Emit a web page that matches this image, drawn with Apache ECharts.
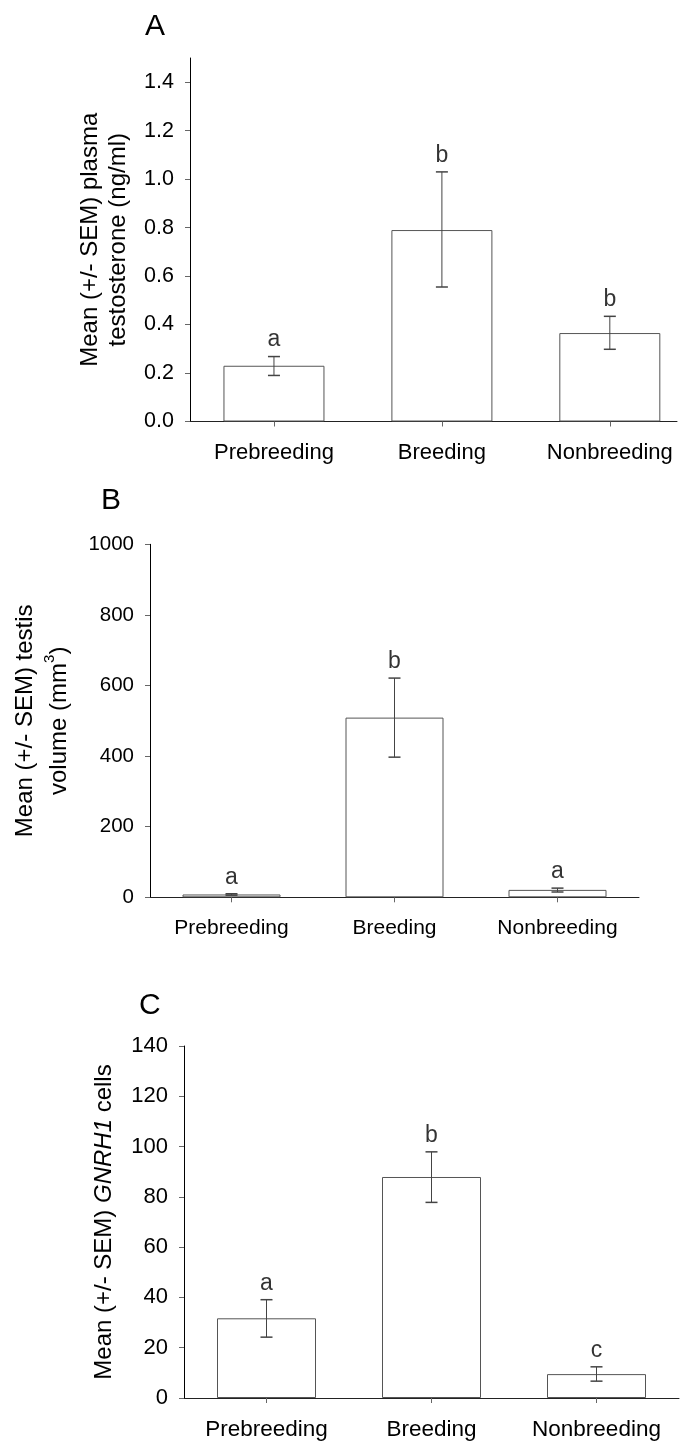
<!DOCTYPE html>
<html>
<head>
<meta charset="utf-8">
<script src="https://cdn.jsdelivr.net/npm/echarts@6/dist/echarts.min.js"></script>
<style>
html,body{margin:0;padding:0;background:#fff;}
#chart{width:686px;height:1441px;}
</style>
</head>
<body>
<div id="chart"></div>
<script>
// ---------- data ----------
const categories = ['Prebreeding', 'Breeding', 'Nonbreeding'];
const categoryIndex = [0, 1, 2];

// Panel A: plasma testosterone (ng/ml)
const testosteroneMean = [0.23, 0.79, 0.365];
const testosteroneLow = [0.19, 0.555, 0.298];
const testosteroneHigh = [0.268, 1.03, 0.434];
const testosteroneLetters = ['a', 'b', 'b'];
const testosteroneTicks = [0, 0.2, 0.4, 0.6, 0.8, 1.0, 1.2, 1.4];

// Panel B: testis volume (mm3)
const testisMean = [8, 509, 21];
const testisLow = [6, 397, 15];
const testisHigh = [10, 621, 26];
const testisLetters = ['a', 'b', 'a'];
const testisTicks = [0, 200, 400, 600, 800, 1000];

// Panel C: GNRH1 cells
const cellsMean = [31.7, 87.9, 9.5];
const cellsLow = [24.2, 77.8, 6.7];
const cellsHigh = [39.1, 97.9, 12.4];
const cellsLetters = ['a', 'b', 'c'];
const cellsTicks = [0, 20, 40, 60, 80, 100, 120, 140];

const panelLetters = ['A', 'B', 'C'];

// ---------- build ----------
const FONT = "'Liberation Sans', Arial, Helvetica, sans-serif";

const panels = [
  {
    grid: {left: 190, top: 58, width: 487, height: 363.5},
    xMax: 2.4, yMax: 1.5, yTicks: testosteroneTicks, decimals: 1,
    mean: testosteroneMean, low: testosteroneLow, high: testosteroneHigh, letters: testosteroneLetters,
    barWidth: 101, fontSize: 21.5,
    name: 'Mean (+/- SEM) plasma\ntestosterone (ng/ml)', nameGap: 58, nameLineHeight: 28,
    rich: {}
  },
  {
    grid: {left: 146, top: 544.3, width: 493, height: 353},
    xMax: 2.5, yMax: 1000, yTicks: testisTicks, decimals: 0,
    mean: testisMean, low: testisLow, high: testisHigh, letters: testisLetters,
    barWidth: 98, fontSize: 20.5,
    name: 'Mean (+/- SEM) testis\nvolume (mm{sup|3})', nameGap: 74, nameLineHeight: 34,
    rich: {sup: {fontSize: 15, fontFamily: FONT, color: '#000', verticalAlign: 'top', padding: [0, 0, 10, 0]}}
  },
  {
    grid: {left: 184, top: 1046, width: 495, height: 354.7},
    xMax: 2.5, yMax: 140, yTicks: cellsTicks, decimals: 0,
    mean: cellsMean, low: cellsLow, high: cellsHigh, letters: cellsLetters,
    barWidth: 99, fontSize: 22,
    name: 'Mean (+/- SEM) {i|GNRH1} cells', nameGap: 66, nameLineHeight: 28,
    rich: {i: {fontSize: 24, fontStyle: 'italic', fontFamily: FONT, color: '#000'}}
  }
];

const option = {
  animation: false,
  backgroundColor: '#fff',
  textStyle: {fontFamily: FONT},
  title: [
    {text: panelLetters[0], left: 140, top: 7},
    {text: panelLetters[1], left: 96, top: 481},
    {text: panelLetters[2], left: 134, top: 986}
  ].map(t => Object.assign(t, {textStyle: {fontFamily: FONT, fontSize: 30, fontWeight: 'normal', color: '#000'}})),
  grid: [], xAxis: [], yAxis: [], series: []
};

panels.forEach((p, gi) => {
  option.grid.push(Object.assign({containLabel: false}, p.grid));
  option.xAxis.push({
    type: 'value', gridIndex: gi, min: -0.5, max: p.xMax,
    splitLine: {show: false},
    axisLine: {show: true, onZero: false, lineStyle: {color: '#222', width: 1}},
    axisTick: {show: true, customValues: categoryIndex, length: 5, lineStyle: {color: '#666'}},
    axisLabel: {
      customValues: categoryIndex, margin: 20, color: '#000',
      fontFamily: FONT, fontSize: p.fontSize + 0.5,
      formatter: v => categories[Math.round(v)]
    }
  });
  option.yAxis.push({
    type: 'value', gridIndex: gi, min: 0, max: p.yMax,
    splitLine: {show: false},
    axisLine: {show: true, onZero: false, lineStyle: {color: '#000', width: 1}},
    axisTick: {show: true, customValues: p.yTicks, length: 5, lineStyle: {color: '#666'}},
    axisLabel: {
      customValues: p.yTicks, margin: 16, color: '#000',
      fontFamily: FONT, fontSize: p.fontSize,
      formatter: v => v.toFixed(p.decimals)
    },
    name: p.name, nameLocation: 'middle', nameGap: p.nameGap,
    nameTextStyle: {fontFamily: FONT, fontSize: 24, color: '#000', lineHeight: p.nameLineHeight, rich: p.rich}
  });
  option.series.push({
    type: 'bar', xAxisIndex: gi, yAxisIndex: gi, z: 2,
    barWidth: p.barWidth,
    data: categoryIndex.map(i => [i, p.mean[i]]),
    itemStyle: {color: '#fff', borderColor: '#555', borderWidth: 1},
    silent: true
  });
  option.series.push({
    type: 'custom', xAxisIndex: gi, yAxisIndex: gi, clip: false, silent: true, z: 5,
    data: categoryIndex.map(i => [i, p.low[i], p.high[i]]),
    renderItem: (params, api) => {
      const lo = api.coord([api.value(0), api.value(1)]);
      const hi = api.coord([api.value(0), api.value(2)]);
      const w = 6;
      const st = {stroke: '#444', lineWidth: 1};
      const cap = {stroke: '#444', lineWidth: 1.5};
      return {type: 'group', children: [
        {type: 'line', shape: {x1: lo[0], y1: lo[1], x2: hi[0], y2: hi[1]}, style: st},
        {type: 'line', shape: {x1: hi[0] - w, y1: hi[1], x2: hi[0] + w, y2: hi[1]}, style: cap},
        {type: 'line', shape: {x1: lo[0] - w, y1: lo[1], x2: lo[0] + w, y2: lo[1]}, style: cap}
      ]};
    }
  });
  option.series.push({
    type: 'scatter', xAxisIndex: gi, yAxisIndex: gi, silent: true, z: 6,
    symbolSize: 0,
    data: categoryIndex.map(i => [i, p.high[i]]),
    label: {
      show: true, position: 'top', distance: 5, color: '#000',
      fontFamily: FONT, fontSize: 23,
      formatter: params => p.letters[params.dataIndex]
    }
  });
});

const chart = echarts.init(document.getElementById('chart'), null, {renderer: 'canvas'});
chart.setOption(option);
</script>
</body>
</html>
